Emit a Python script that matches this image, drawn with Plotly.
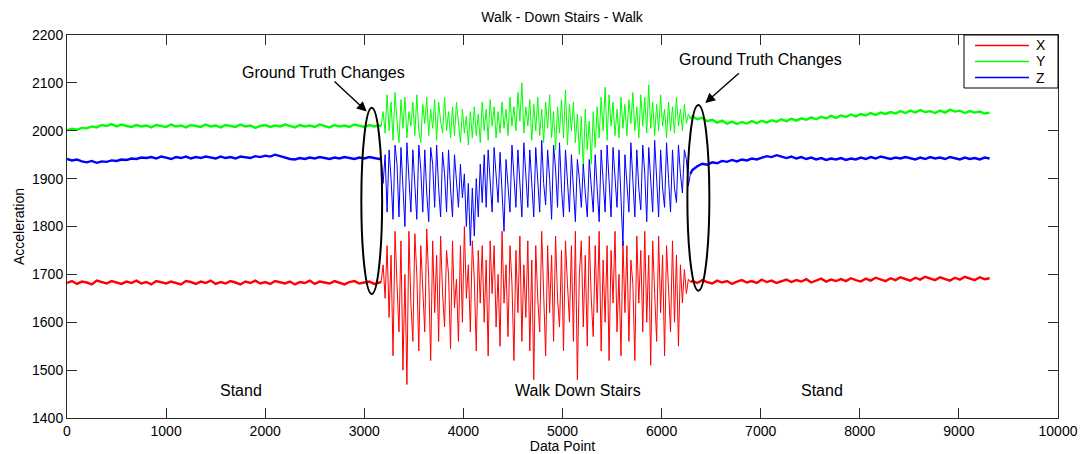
import plotly.graph_objects as go

# ---- accelerometer readings (x-axis: data point index) ----
# Standing before the stairs: samples every 50 points starting at 0
stand1_start, stand1_step = 0, 50
stand1_x_acc = [
    1682, 1686, 1680, 1685, 1683, 1679, 1687, 1684, 1681, 1686,
    1683, 1680, 1685, 1682, 1687, 1681, 1684, 1679, 1686, 1683,
    1681, 1685, 1682, 1679, 1686, 1684, 1680, 1685, 1682, 1687,
    1680, 1684, 1681, 1686, 1683, 1679, 1685, 1682, 1687, 1681,
    1684, 1680, 1686, 1683, 1681, 1685, 1679, 1684, 1682, 1687,
    1680, 1685, 1683, 1681, 1686, 1682, 1679, 1684, 1686, 1681,
    1683, 1685, 1680, 1684]
stand1_y_acc = [
    2001, 2004, 2002, 2006, 2005, 2009, 2007, 2012, 2010, 2014,
    2009, 2013, 2010, 2008, 2012, 2009, 2011, 2007, 2012, 2010,
    2008, 2013, 2009, 2011, 2007, 2012, 2010, 2008, 2013, 2009,
    2011, 2007, 2012, 2010, 2008, 2013, 2009, 2011, 2006, 2010,
    2012, 2008, 2011, 2009, 2013, 2010, 2007, 2012, 2009, 2011,
    2008, 2013, 2010, 2007, 2012, 2009, 2011, 2008, 2013, 2010,
    2008, 2012, 2009, 2011]
stand1_z_acc = [
    1941, 1938, 1940, 1936, 1934, 1937, 1933, 1936, 1935, 1938,
    1937, 1940, 1939, 1942, 1941, 1944, 1943, 1945, 1942, 1946,
    1944, 1941, 1945, 1943, 1946, 1942, 1945, 1943, 1946, 1944,
    1942, 1946, 1943, 1945, 1942, 1946, 1944, 1943, 1947, 1945,
    1948, 1946, 1950, 1947, 1944, 1941, 1940, 1943, 1941, 1944,
    1942, 1945, 1943, 1941, 1944, 1942, 1945, 1943, 1941, 1944,
    1942, 1945, 1943, 1941]

# Walking down the stairs: samples every 20 points starting at 3170
walk_start, walk_step = 3170, 20
walk_x_acc = [
    1684, 1720, 1650, 1760, 1610, 1740, 1530, 1790, 1680, 1580,
    1770, 1500, 1700, 1470, 1790, 1640, 1560, 1785, 1700, 1540,
    1760, 1650, 1580, 1795, 1690, 1520, 1770, 1620, 1740, 1560,
    1780, 1660, 1590, 1750, 1700, 1545, 1770, 1630, 1690, 1560,
    1760, 1600, 1800, 1650, 1720, 1580, 1770, 1690, 1540, 1750,
    1640, 1760, 1600, 1730, 1530, 1770, 1660, 1760, 1590, 1700,
    1550, 1790, 1640, 1720, 1570, 1760, 1680, 1520, 1750, 1620,
    1780, 1560, 1720, 1610, 1770, 1540, 1730, 1480, 1760, 1650,
    1580, 1790, 1670, 1530, 1760, 1620, 1740, 1560, 1780, 1650,
    1590, 1750, 1540, 1770, 1680, 1600, 1760, 1560, 1790, 1480,
    1700, 1770, 1590, 1740, 1550, 1780, 1650, 1570, 1760, 1620,
    1790, 1540, 1730, 1600, 1760, 1520, 1750, 1640, 1790, 1580,
    1700, 1530, 1770, 1620, 1760, 1560, 1730, 1680, 1520, 1780,
    1640, 1750, 1580, 1790, 1600, 1740, 1510, 1770, 1660, 1560,
    1780, 1620, 1740, 1530, 1760, 1650, 1580, 1770, 1600, 1740,
    1550, 1720, 1640, 1710, 1660, 1690, 1684]
walk_y_acc = [
    2010, 2040, 1995, 2075, 2000, 2060, 1980, 2080, 2020, 1975,
    2065, 2005, 2070, 1985, 2040, 2010, 2060, 1990, 2075, 2000,
    1975, 2055, 2015, 2070, 1990, 2045, 2005, 2065, 1980, 2060,
    2020, 1995, 2070, 2000, 2040, 1985, 2050, 1990, 2060, 2010,
    1975, 2045, 1995, 2030, 1970, 2040, 1985, 2050, 1990, 2035,
    1975, 2060, 2000, 2045, 1980, 2065, 2010, 2050, 1985, 2040,
    1995, 2060, 2005, 2045, 1990, 2070, 2010, 2050, 2000, 2080,
    2020, 2100, 1995, 2050, 2010, 2065, 1980, 2055, 2000, 2070,
    1990, 2045, 1975, 2060, 2005, 2075, 1985, 2040, 1960, 2050,
    1995, 2065, 1985, 2085, 1970, 2055, 2000, 2060, 1975, 2035,
    1950, 2030, 1920, 2045, 1960, 2020, 1930, 2040, 1965, 2050,
    1985, 2070, 2000, 2091, 1980, 2075, 2010, 2060, 1990, 2045,
    1985, 2070, 2005, 2055, 1990, 2065, 2015, 2080, 2000, 2050,
    1985, 2075, 2010, 2070, 1995, 2096, 2005, 2060, 1990, 2055,
    2000, 2075, 2010, 2045, 1985, 2060, 2000, 2050, 1995, 2070,
    2010, 2045, 2000, 2055, 2015, 2035, 2025]
walk_z_acc = [
    1942, 1890, 1950, 1830, 1960, 1900, 1815, 1970, 1930, 1820,
    1965, 1880, 1800, 1975, 1910, 1830, 1960, 1890, 1815, 1970,
    1920, 1830, 1960, 1870, 1810, 1965, 1930, 1840, 1970, 1880,
    1820, 1955, 1910, 1830, 1960, 1880, 1820, 1950, 1900, 1840,
    1930, 1860, 1910, 1800, 1890, 1760, 1880, 1780, 1900, 1820,
    1930, 1850, 1950, 1840, 1960, 1880, 1830, 1965, 1900, 1850,
    1955, 1870, 1790, 1940, 1890, 1830, 1970, 1900, 1840, 1960,
    1880, 1820, 1975, 1910, 1840, 1960, 1880, 1820, 1965, 1900,
    1830, 1980, 1890, 1845, 1960, 1900, 1815, 1970, 1920, 1840,
    1975, 1880, 1820, 1960, 1900, 1830, 1950, 1880, 1810, 1940,
    1900, 1840, 1930, 1870, 1820, 1940, 1880, 1830, 1950, 1890,
    1810, 1960, 1900, 1830, 1970, 1880, 1820, 1965, 1910, 1840,
    1960, 1870, 1760, 1950, 1890, 1830, 1975, 1900, 1820, 1960,
    1880, 1835, 1970, 1910, 1810, 1965, 1890, 1830, 1980, 1900,
    1820, 1960, 1880, 1840, 1975, 1900, 1830, 1960, 1880, 1850,
    1970, 1910, 1870, 1960, 1940, 1885, 1910]

# Standing after the stairs: samples every 50 points starting at 6310
stand2_start, stand2_step = 6310, 50
stand2_x_acc = [
    1686, 1682, 1688, 1684, 1681, 1687, 1683, 1686, 1680, 1685,
    1688, 1683, 1686, 1682, 1689, 1684, 1687, 1682, 1686, 1689,
    1684, 1688, 1685, 1690, 1683, 1687, 1691, 1685, 1689, 1686,
    1690, 1686, 1692, 1688, 1685, 1691, 1687, 1693, 1689, 1686,
    1692, 1688, 1694, 1690, 1687, 1693, 1689, 1695, 1691, 1688,
    1694, 1690, 1687, 1693, 1689, 1695, 1691, 1688, 1694, 1690,
    1692]
stand2_y_acc = [
    2030, 2024, 2027, 2020, 2023, 2017, 2021, 2015, 2019, 2014,
    2018, 2015, 2020, 2016, 2021, 2017, 2022, 2019, 2024, 2020,
    2025, 2021, 2026, 2023, 2028, 2024, 2029, 2026, 2031, 2027,
    2032, 2029, 2034, 2030, 2035, 2032, 2037, 2033, 2038, 2035,
    2039, 2036, 2041, 2037, 2042, 2038, 2043, 2039, 2041, 2037,
    2042, 2038, 2044, 2040, 2042, 2037, 2041, 2038, 2040, 2036,
    2038]
stand2_z_acc = [
    1918, 1926, 1931, 1929, 1934, 1932, 1937, 1935, 1939, 1936,
    1940, 1938, 1942, 1940, 1944, 1947, 1945, 1949, 1946, 1943,
    1946, 1942, 1945, 1941, 1944, 1940, 1943, 1939, 1942, 1940,
    1943, 1939, 1942, 1940, 1944, 1941, 1945, 1942, 1946, 1943,
    1941, 1944, 1942, 1945, 1943, 1940, 1944, 1941, 1945, 1942,
    1944, 1941, 1945, 1942, 1940, 1944, 1941, 1943, 1940, 1944,
    1942]

series_names = ["X", "Y", "Z"]
series_colors = ["#ff0000", "#00ff00", "#0000ff"]
stand1_vals = [stand1_x_acc, stand1_y_acc, stand1_z_acc]
walk_vals = [walk_x_acc, walk_y_acc, walk_z_acc]
stand2_vals = [stand2_x_acc, stand2_y_acc, stand2_z_acc]

# Ground-truth change markers (ellipses, data coordinates)
change_regions = [
    dict(x0=2970, x1=3180, y0=1659, y1=2048),
    dict(x0=6260, x1=6482, y0=1666, y1=2054),
]
activity_labels = [("Stand", 1757), ("Walk Down Stairs", 5158), ("Stand", 7622)]
label_y = 1457

# Frame geometry (pixels) used for the boxed legend
W, H = 1085, 454
ML, MR, MT, MB = 67, 27, 35, 36
PW, PH = W - ML - MR, H - MT - MB


def positions(start, step, n):
    return [start + step * i for i in range(n)]


def px_x(px):
    return (px - ML) / PW


def px_y(py):
    return (H - MB - py) / PH


fig = go.Figure()
for name, color, s1, w, s2 in zip(series_names, series_colors,
                                  stand1_vals, walk_vals, stand2_vals):
    x1 = positions(stand1_start, stand1_step, len(s1))
    xw = positions(walk_start, walk_step, len(w))
    x2 = positions(stand2_start, stand2_step, len(s2))
    fig.add_trace(go.Scatter(
        x=x1 + [xw[0]], y=s1 + [w[0]], mode="lines",
        line=dict(color=color, width=2.4), name=name, hoverinfo="skip"))
    fig.add_trace(go.Scatter(
        x=xw, y=w, mode="lines", name=name,
        line=dict(color=color, width=1)))
    fig.add_trace(go.Scatter(
        x=[xw[-1]] + x2, y=[w[-1]] + s2, mode="lines",
        line=dict(color=color, width=2.4), name=name, hoverinfo="skip"))

for r in change_regions:
    fig.add_shape(type="circle", xref="x", yref="y", **r,
                  line=dict(color="black", width=2))

font_main = "Liberation Sans, Arial, Helvetica, sans-serif"

# Call-outs with arrows pointing at the ellipses
callouts = [
    dict(text_x=2586, text_y=2121, tail=(2684, 2106), tip=(3024, 2040)),
    dict(text_x=7000, text_y=2148, tail=(6795, 2123), tip=(6441, 2058)),
]
for c in callouts:
    fig.add_annotation(x=c["text_x"], y=c["text_y"], text="Ground Truth Changes",
                       showarrow=False, font=dict(size=16, color="black"))
    fig.add_annotation(x=c["tip"][0], y=c["tip"][1], ax=c["tail"][0], ay=c["tail"][1],
                       axref="x", ayref="y", text="", showarrow=True,
                       arrowhead=2, arrowsize=1.4, arrowwidth=1.4, arrowcolor="black")

for text, xv in activity_labels:
    fig.add_annotation(x=xv, y=label_y, text=text, showarrow=False,
                       font=dict(size=16, color="black"))

# Boxed legend in the upper-right corner of the axes
fig.add_shape(type="rect", xref="paper", yref="paper",
              x0=px_x(964), x1=1.0, y0=px_y(88), y1=1.0,
              line=dict(color="black", width=1), fillcolor="white", layer="above")
for i, (name, color) in enumerate(zip(series_names, series_colors)):
    yy = px_y(45.5 + 16 * i)
    fig.add_shape(type="line", xref="paper", yref="paper",
                  x0=px_x(975), x1=px_x(1029), y0=yy, y1=yy,
                  line=dict(color=color, width=1.3), layer="above")
    fig.add_annotation(xref="paper", yref="paper", x=px_x(1034), y=yy,
                       text=name, showarrow=False, xanchor="left", yanchor="middle",
                       font=dict(size=14, color="black"))

axis_common = dict(showgrid=False, zeroline=False, showline=True, linecolor="#2b2b2b",
                   linewidth=1, mirror="ticks", ticks="inside", ticklen=10,
                   tickcolor="#2b2b2b", tickfont=dict(size=14, color="black"),
                   automargin=False)

fig.update_layout(
    width=W, height=H,
    margin=dict(l=ML, r=MR, t=MT, b=MB),
    paper_bgcolor="white", plot_bgcolor="white",
    font=dict(family=font_main, color="black"),
    title=dict(text="Walk - Down Stairs - Walk", x=0.518, xanchor="center",
               y=0.962, yanchor="middle", font=dict(size=14)),
    xaxis=dict(range=[0, 10000], dtick=1000, tickformat="d",
               title=dict(text="Data Point", standoff=0, font=dict(size=14)),
               **axis_common),
    yaxis=dict(range=[1400, 2200], dtick=100, tickformat="d",
               title=dict(text="Acceleration", standoff=4, font=dict(size=14)),
               **axis_common),
    showlegend=False,
)

fig.write_html("out.html")
